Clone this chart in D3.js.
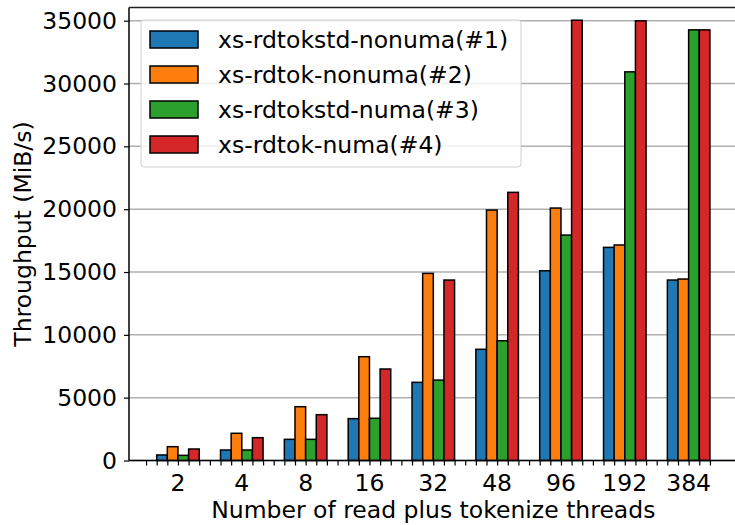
<!DOCTYPE html>
<html>
<head>
<meta charset="utf-8">
<script src="https://cdn.jsdelivr.net/npm/d3@7"></script>
<style>
body { margin: 0; background: #fff; }
text { font-family: "DejaVu Sans", sans-serif; fill: #000; }
</style>
</head>
<body>
<script>
var threads = ["2", "4", "8", "16", "32", "48", "96", "192", "384"];
var seriesNames = ["xs-rdtokstd-nonuma(#1)", "xs-rdtok-nonuma(#2)", "xs-rdtokstd-numa(#3)", "xs-rdtok-numa(#4)"];
var colors = ["#1f77b4", "#ff7f0e", "#2ca02c", "#d62728"];
var rdtokstdNonuma = [440, 835, 1685, 3330, 6220, 8850, 15100, 16960, 14360];
var rdtokNonuma = [1100, 2165, 4280, 8260, 14890, 19930, 20090, 17150, 14440];
var rdtokstdNuma = [410, 835, 1685, 3360, 6400, 9530, 17940, 30930, 34270];
var rdtokNuma = [915, 1815, 3645, 7280, 14360, 21340, 35040, 34990, 34270];
var yTicks = [0, 5000, 10000, 15000, 20000, 25000, 30000, 35000];

var series = [rdtokstdNonuma, rdtokNonuma, rdtokstdNuma, rdtokNuma];

var w = 735,
    h = 525,
    plotLeft = 129,
    plotTop = 7.5,
    plotBottom = 460.5,
    plotRight = 737.6,
    barW = 1 / 6,
    fontSize = "23.5px";

var xScale = d3.scaleLinear()
    .domain([-0.767, threads.length - 1 + 0.767])
    .range([plotLeft, plotRight]);
var yScale = d3.scaleLinear()
    .domain([0, 36050])
    .range([plotBottom, plotTop]);

var svg = d3.select("body").append("svg")
    .attr("width", w)
    .attr("height", h);

// grid
svg.append("g")
    .selectAll("line")
    .data(yTicks)
    .enter()
    .append("line")
    .attr("x1", plotLeft)
    .attr("x2", plotRight)
    .attr("y1", function(d) { return yScale(d); })
    .attr("y2", function(d) { return yScale(d); })
    .attr("stroke", "#b0b0b0")
    .attr("stroke-width", 1.5);

// bars
var bars = svg.append("g");
series.forEach(function(vals, s) {
    bars.selectAll(".b" + s)
        .data(vals)
        .enter()
        .append("rect")
        .attr("class", "b" + s)
        .attr("x", function(d, i) { return xScale(i + (s - 2) * barW); })
        .attr("width", xScale(barW) - xScale(0))
        .attr("y", function(d) { return yScale(d); })
        .attr("height", function(d) { return yScale(0) - yScale(d); })
        .attr("fill", colors[s])
        .attr("stroke", "#000")
        .attr("stroke-width", 1.5);
});

// y axis
var yAxis = svg.append("g")
    .attr("transform", "translate(" + plotLeft + ",0)")
    .call(d3.axisLeft(yScale).tickValues(yTicks).tickSize(5).tickPadding(7).tickFormat(d3.format("d")));
yAxis.select(".domain").remove();
yAxis.selectAll("line").attr("stroke", "#000").attr("stroke-width", 1.2);
yAxis.selectAll("text").style("font-size", fontSize).style("font-family", "DejaVu Sans");

// x axis: a tick at every bar slot edge, labels at group centres
var slotTicks = d3.range(0, (threads.length - 1) * 6 + 6).map(function(k) { return -0.5 + k * barW; });
var xAxis = svg.append("g")
    .attr("transform", "translate(0," + plotBottom + ")")
    .call(d3.axisBottom(xScale).tickValues(slotTicks).tickSize(5).tickFormat(""));
xAxis.select(".domain").remove();
xAxis.selectAll("line").attr("stroke", "#000").attr("stroke-width", 1.2);

svg.append("g")
    .selectAll("text")
    .data(threads)
    .enter()
    .append("text")
    .attr("x", function(d, i) { return xScale(i); })
    .attr("y", 491)
    .attr("text-anchor", "middle")
    .style("font-size", fontSize)
    .text(function(d) { return d; });

// spines
svg.append("line").attr("x1", plotLeft).attr("x2", plotLeft).attr("y1", plotTop).attr("y2", plotBottom)
    .attr("stroke", "#000").attr("stroke-width", 1.5);
svg.append("line").attr("x1", plotLeft).attr("x2", plotRight).attr("y1", plotBottom).attr("y2", plotBottom)
    .attr("stroke", "#000").attr("stroke-width", 1.5);
svg.append("line").attr("x1", plotLeft).attr("x2", plotRight).attr("y1", plotTop).attr("y2", plotTop)
    .attr("stroke", "#222").attr("stroke-width", 1.5);

// axis labels
svg.append("text")
    .attr("x", (plotLeft + plotRight) / 2)
    .attr("y", 518)
    .attr("text-anchor", "middle")
    .style("font-size", fontSize)
    .text("Number of read plus tokenize threads");
svg.append("text")
    .attr("transform", "translate(31," + ((plotTop + plotBottom) / 2) + ") rotate(-90)")
    .attr("text-anchor", "middle")
    .style("font-size", fontSize)
    .text("Throughput (MiB/s)");

// legend
var legend = svg.append("g").attr("class", "legend");
legend.append("rect")
    .attr("x", 141)
    .attr("y", 20)
    .attr("width", 380)
    .attr("height", 147)
    .attr("rx", 3)
    .attr("fill", "#fff")
    .attr("fill-opacity", 0.8)
    .attr("stroke", "#d0d0d0")
    .attr("stroke-width", 1);
var rows = legend.selectAll(".row")
    .data(seriesNames)
    .enter()
    .append("g")
    .attr("class", "row")
    .attr("transform", function(d, i) { return "translate(0," + (39.5 + i * 35) + ")"; });
rows.append("rect")
    .attr("x", 150)
    .attr("y", -8.5)
    .attr("width", 48)
    .attr("height", 17)
    .attr("fill", function(d, i) { return colors[i]; })
    .attr("stroke", "#000")
    .attr("stroke-width", 1.5);
rows.append("text")
    .attr("x", 218)
    .attr("y", 8.5)
    .style("font-size", fontSize)
    .text(function(d) { return d; });
</script>
</body>
</html>
